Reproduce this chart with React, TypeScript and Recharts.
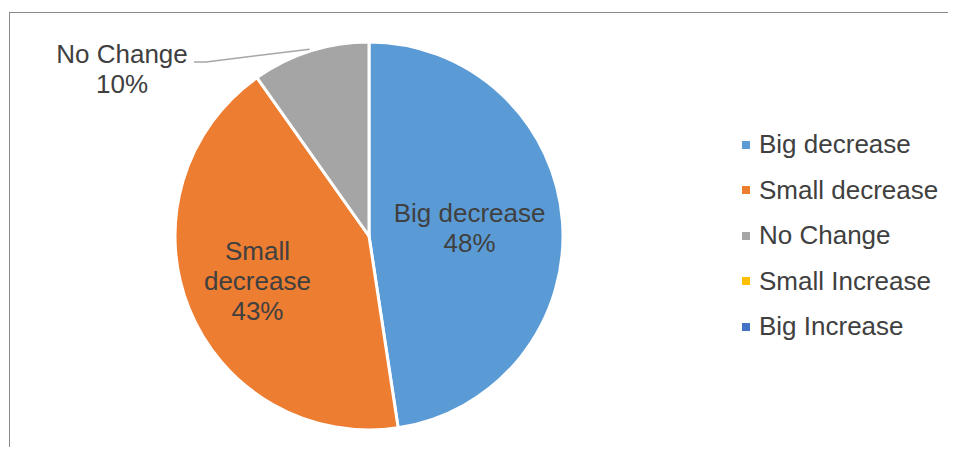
import React from "react";
import { PieChart, Pie, Cell, Legend } from "recharts";

const categories = ["Big decrease", "Small decrease", "No Change", "Small Increase", "Big Increase"];
const values = [47.6, 42.6, 9.8, 0, 0];
const colors = ["#5B9BD5", "#ED7D31", "#A5A5A5", "#FFC000", "#4472C4"];

const data = categories.map((name, i) => ({ name, value: values[i] }));

const FONT = "'Liberation Sans', Arial, sans-serif";
const TEXT = "#404040";
const FS = 26;
const LH = 30;

const renderLabel = (props: any) => {
  const { cx, cy, midAngle, outerRadius, percent, name, value } = props;
  if (!value) return null;
  const pct = `${Math.round(percent * 100)}%`;
  const RAD = Math.PI / 180;
  if (name === "No Change") {
    const ax = cx + (outerRadius + 2) * Math.cos(-midAngle * RAD);
    const ay = cy + (outerRadius + 2) * Math.sin(-midAngle * RAD);
    const ex = cx - 173;
    const ey = cy - 174;
    const tx = ex - 74;
    return (
      <g>
        <polyline points={`${ax},${ay} ${ex + 10},${ey} ${ex - 2},${ey}`} fill="none" stroke="#A6A6A6" strokeWidth={1.5} />
        <text x={tx} y={ey + 1} textAnchor="middle" fontFamily={FONT} fontSize={FS} fill={TEXT}>
          {name}
        </text>
        <text x={tx} y={ey + 1 + LH} textAnchor="middle" fontFamily={FONT} fontSize={FS} fill={TEXT}>
          {pct}
        </text>
      </g>
    );
  }
  const frac = name === "Big decrease" ? 0.52 : 0.62;
  const r = outerRadius * frac;
  const x = cx + r * Math.cos(-midAngle * RAD);
  const y = cy + r * Math.sin(-midAngle * RAD);
  const lines = name === "Small decrease" ? ["Small", "decrease", pct] : [name, pct];
  const startY = y - ((lines.length - 1) * LH) / 2 + 9;
  return (
    <text textAnchor="middle" fontFamily={FONT} fontSize={FS} fill={TEXT}>
      {lines.map((l, i) => (
        <tspan key={i} x={x} y={startY + i * LH}>
          {l}
        </tspan>
      ))}
    </text>
  );
};

const renderLegend = () => (
  <div style={{ fontFamily: FONT, fontSize: FS, color: TEXT }}>
    {categories.map((c, i) => (
      <div key={c} style={{ display: "flex", alignItems: "center", height: 45.5, whiteSpace: "nowrap" }}>
        <span style={{ display: "inline-block", width: 8, height: 8, background: colors[i], marginRight: 9 }} />
        <span>{c}</span>
      </div>
    ))}
  </div>
);

export default function App() {
  return (
    <div style={{ position: "relative", margin: -8, width: 956, height: 455, background: "#fff" }}>
      <div
        style={{
          position: "absolute",
          left: 9,
          top: 12,
          width: 947,
          height: 443,
          boxSizing: "border-box",
          borderLeft: "1.5px solid #8a8a8a",
          borderTop: "1.5px solid #8a8a8a",
        }}
      />
      <div style={{ position: "absolute", left: 0, top: 0 }}>
        <PieChart width={956} height={455}>
          <Pie
            data={data}
            dataKey="value"
            nameKey="name"
            cx={364}
            cy={231}
            outerRadius={194}
            startAngle={90}
            endAngle={-270}
            stroke="#ffffff"
            strokeWidth={3}
            label={renderLabel}
            labelLine={false}
            isAnimationActive={false}
          >
            {data.map((d, i) => (
              <Cell key={d.name} fill={colors[i]} />
            ))}
          </Pie>
          <Legend
            content={renderLegend}
            layout="vertical"
            wrapperStyle={{ position: "absolute", left: 742, top: 122, width: 214 }}
          />
        </PieChart>
      </div>
    </div>
  );
}
